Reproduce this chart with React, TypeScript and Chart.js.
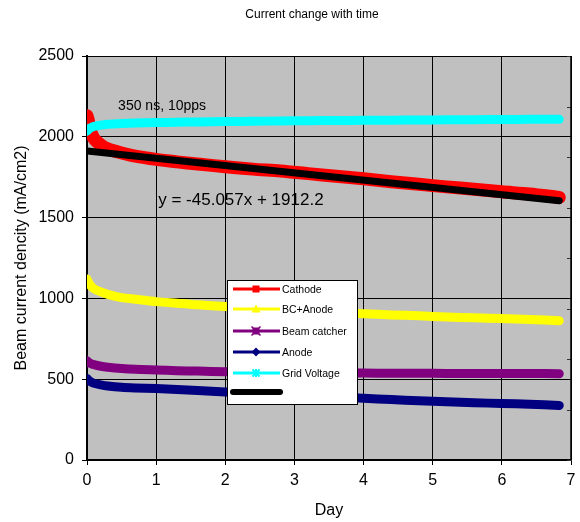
import React, { useEffect, useRef } from "react";
import { Chart, registerables } from "chart.js";

Chart.register(...registerables);

const chartTitle = "Current change with time";
const xTitle = "Day";
const yTitle = "Beam current dencity (mA/cm2)";
const noteText = "350 ns, 10pps";
const equationText = "y = -45.057x + 1912.2";

const days = [0, 0.02, 0.05, 0.1, 0.2, 0.3, 0.5, 0.7, 1.0, 1.3, 1.6, 2.0, 2.4, 2.8, 3.2, 3.6, 4.0, 4.4, 4.8, 5.2, 5.6, 6.0, 6.4, 6.83];
const cathode = [2130, 2100, 2040, 1990, 1950, 1925, 1900, 1880, 1860, 1845, 1832, 1815, 1800, 1788, 1772, 1756, 1740, 1722, 1706, 1690, 1676, 1660, 1646, 1625];
const bcAnode = [1120, 1100, 1080, 1060, 1040, 1025, 1005, 995, 980, 970, 960, 950, 940, 930, 922, 915, 905, 898, 892, 885, 880, 875, 870, 862];
const beamCatcher = [615, 605, 598, 590, 580, 574, 566, 561, 557, 553, 550, 546, 543, 541, 540, 539, 538, 537, 537, 536, 536, 535, 535, 534];
const anode = [505, 495, 485, 475, 465, 458, 450, 446, 442, 436, 430, 421, 410, 405, 398, 390, 382, 374, 366, 360, 354, 350, 345, 338];
const gridVoltage = [2035, 2045, 2055, 2065, 2072, 2078, 2083, 2086, 2088, 2090, 2092, 2094, 2096, 2098, 2100, 2101, 2102, 2103, 2104, 2105, 2106, 2107, 2108, 2108];
const trendDays = [0, 6.83];
const trendValues = [1912.2, 1604.5];

const seriesNames = ["Cathode", "BC+Anode", "Beam catcher", "Anode", "Grid Voltage", ""];
const seriesColors = ["#FF0000", "#FFFF00", "#800080", "#000080", "#00FFFF", "#000000"];

const xTicks = { min: 0, max: 7, step: 1 };
const yTicks = { min: 0, max: 2500, step: 500 };

const FONT = "'Liberation Sans', Arial, sans-serif";

const pts = (xs: number[], ys: number[]) => ys.map((y, i) => ({ x: xs[i], y }));

function drawMarker(ctx: CanvasRenderingContext2D, kind: string, x: number, y: number, color: string) {
  ctx.save();
  ctx.fillStyle = color;
  ctx.strokeStyle = color;
  if (kind === "square") {
    ctx.fillRect(x - 3.5, y - 3.5, 7, 7);
  } else if (kind === "triangle") {
    ctx.beginPath();
    ctx.moveTo(x, y - 4.5);
    ctx.lineTo(x + 4.5, y + 3.5);
    ctx.lineTo(x - 4.5, y + 3.5);
    ctx.closePath();
    ctx.fill();
  } else if (kind === "star") {
    ctx.fillRect(x - 3.5, y - 3.5, 7, 7);
    ctx.lineWidth = 1.5;
    ctx.beginPath();
    ctx.moveTo(x - 4.5, y - 4.5);
    ctx.lineTo(x + 4.5, y + 4.5);
    ctx.moveTo(x + 4.5, y - 4.5);
    ctx.lineTo(x - 4.5, y + 4.5);
    ctx.stroke();
  } else if (kind === "diamond") {
    ctx.beginPath();
    ctx.moveTo(x, y - 4.5);
    ctx.lineTo(x + 4.5, y);
    ctx.lineTo(x, y + 4.5);
    ctx.lineTo(x - 4.5, y);
    ctx.closePath();
    ctx.fill();
  } else if (kind === "cross") {
    ctx.lineWidth = 2;
    ctx.beginPath();
    ctx.moveTo(x - 3.5, y - 3.5);
    ctx.lineTo(x + 3.5, y + 3.5);
    ctx.moveTo(x + 3.5, y - 3.5);
    ctx.lineTo(x - 3.5, y + 3.5);
    ctx.moveTo(x, y - 4);
    ctx.lineTo(x, y + 4);
    ctx.stroke();
  }
  ctx.restore();
}

const customPlugin = {
  id: "custom",
  beforeDraw(chart: any) {
    const { ctx, chartArea: a } = chart;
    ctx.save();
    ctx.fillStyle = "#C0C0C0";
    ctx.fillRect(a.left, a.top, a.right - a.left, a.bottom - a.top);
    ctx.restore();
  },
  afterDatasetsDraw(chart: any) {
    const { ctx, chartArea: a, scales } = chart;
    ctx.save();
    // right inward ticks
    ctx.strokeStyle = "#333";
    ctx.lineWidth = 1;
    for (let i = 0; i <= 8; i++) {
      const y = Math.round(a.top + ((a.bottom - a.top) * i) / 8) + 0.5;
      ctx.beginPath();
      ctx.moveTo(a.right - 4, y);
      ctx.lineTo(a.right, y);
      ctx.stroke();
    }
    // right border
    ctx.strokeStyle = "#000";
    ctx.lineWidth = 1.5;
    ctx.beginPath();
    ctx.moveTo(a.right, a.top);
    ctx.lineTo(a.right, a.bottom);
    ctx.stroke();

    // annotations
    ctx.fillStyle = "#000";
    ctx.textBaseline = "middle";
    ctx.textAlign = "left";
    ctx.font = `14px ${FONT}`;
    ctx.fillText(noteText, scales.x.getPixelForValue(0.45), scales.y.getPixelForValue(2190));
    ctx.font = `17px ${FONT}`;
    ctx.fillText(equationText, scales.x.getPixelForValue(1.03), scales.y.getPixelForValue(1609));

    // legend
    const lx = a.left + 140;
    const ly = a.top + 224;
    const lw = 130;
    const lh = 124;
    ctx.fillStyle = "#FFFFFF";
    ctx.fillRect(lx, ly, lw, lh);
    ctx.strokeStyle = "#000";
    ctx.lineWidth = 1;
    ctx.strokeRect(lx + 0.5, ly + 0.5, lw, lh);
    const rows = [9, 29, 51, 72, 93, 112];
    const kinds = ["square", "triangle", "star", "diamond", "cross", "none"];
    ctx.font = `10.5px ${FONT}`;
    for (let i = 0; i < seriesNames.length; i++) {
      const y = ly + rows[i];
      ctx.strokeStyle = seriesColors[i];
      ctx.lineWidth = i === 5 ? 6 : 3;
      ctx.lineCap = i === 5 ? "round" : "butt";
      ctx.beginPath();
      ctx.moveTo(lx + 6, y);
      ctx.lineTo(lx + 53, y);
      ctx.stroke();
      if (kinds[i] !== "none") drawMarker(ctx, kinds[i], lx + 29, y, seriesColors[i]);
      ctx.fillStyle = "#000";
      ctx.fillText(seriesNames[i], lx + 55, y + 1);
    }

    ctx.restore();
  },
  afterDraw(chart: any) {
    const { ctx } = chart;
    ctx.save();
    ctx.fillStyle = "#000";
    ctx.font = `12px ${FONT}`;
    ctx.textAlign = "center";
    ctx.textBaseline = "middle";
    ctx.fillText(chartTitle, 312, 15);
    ctx.restore();
  },
};

export default function App() {
  const ref = useRef<HTMLCanvasElement>(null);
  useEffect(() => {
    if (!ref.current) return;
    const mk = (i: number, data: number[], width: number, order: number) => ({
      label: seriesNames[i],
      data: pts(days, data),
      borderColor: seriesColors[i],
      backgroundColor: seriesColors[i],
      borderWidth: width,
      pointRadius: 0,
      tension: 0.3,
      borderCapStyle: "round" as const,
      borderJoinStyle: "round" as const,
      order,
    });
    const chart = new Chart(ref.current, {
      type: "line",
      data: {
        datasets: [
          {
            label: "trend",
            data: pts(trendDays, trendValues),
            borderColor: "#000",
            backgroundColor: "#000",
            borderWidth: 7,
            pointRadius: 0,
            borderCapStyle: "round",
            order: 0,
          },
          mk(0, cathode, 13, 5),
          mk(1, bcAnode, 9, 2),
          mk(2, beamCatcher, 9, 3),
          mk(3, anode, 9, 4),
          mk(4, gridVoltage, 9, 1),
        ] as any,
      },
      options: {
        animation: false,
        responsive: true,
        maintainAspectRatio: false,
        layout: { padding: { top: 56, right: 9, left: 0, bottom: 0 } },
        plugins: {
          legend: { display: false },
          title: { display: false },
          tooltip: { enabled: false },
        },
        scales: {
          x: {
            type: "linear",
            min: xTicks.min,
            max: xTicks.max,
            ticks: { stepSize: xTicks.step, color: "#000", font: { family: FONT, size: 16 }, padding: 6, callback: (v: any) => String(v) },
            grid: { color: "#000", lineWidth: 1, tickLength: 5 },
            border: { color: "#000", width: 1.5 },
            title: { display: true, text: xTitle, color: "#000", font: { family: FONT, size: 16 }, padding: { top: 4, bottom: 2 } },
            afterFit: (s: any) => { s.height = 62; s.paddingRight = 0; s.paddingLeft = 0; },
          },
          y: {
            min: yTicks.min,
            max: yTicks.max,
            ticks: { stepSize: yTicks.step, color: "#000", font: { family: FONT, size: 16 }, padding: 8, callback: (v: any) => String(v) },
            grid: { color: "#000", lineWidth: 1, tickLength: 5 },
            border: { color: "#000", width: 2 },
            title: { display: true, text: yTitle, color: "#000", font: { family: FONT, size: 16 }, padding: { top: 12, bottom: 4 } },
            afterFit: (s: any) => { s.width = 87; s.paddingTop = 0; s.paddingBottom = 0; },
          },
        },
      },
      plugins: [customPlugin],
    });
    return () => chart.destroy();
  }, []);
  return (
    <div style={{ position: "absolute", left: 0, top: 0, width: 580, height: 522 }}>
      <canvas ref={ref} />
    </div>
  );
}
